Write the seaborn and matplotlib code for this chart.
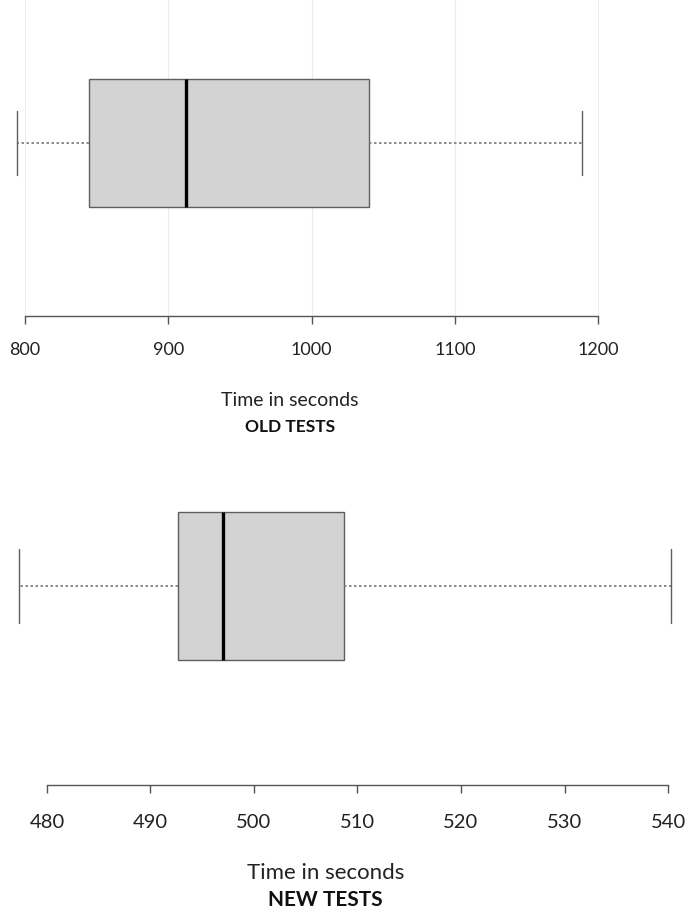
import numpy as np
import matplotlib
matplotlib.use("Agg")
import matplotlib.pyplot as plt
import seaborn as sns

# five-number summaries (min, Q1, median, Q3, max)
old_times = [794.5, 844.5, 912.5, 1040, 1189]
new_times = [477.3, 492.7, 497.0, 508.7, 540.3]

old_ticks = [800, 900, 1000, 1100, 1200]
new_ticks = [480, 490, 500, 510, 520, 530, 540]

sns.set_style("white")
plt.rcParams['font.family'] = ['Lato', 'DejaVu Sans']

fig = plt.figure(figsize=(6.9, 9.12), dpi=100)

box_kw = dict(
    orient="h", width=0.8, whis=(0, 100), saturation=1,
    color="#d3d3d3", linecolor="#5e5e5e", linewidth=1.0,
    medianprops=dict(color="black", linewidth=2.4),
    whiskerprops=dict(color="#777777", linestyle=(0, (1.5, 1.5)), linewidth=1.2),
    capprops=dict(color="#5e5e5e", linewidth=1.0),
)


def style_axis(ax, ticks, lim, ylim, fontsize, pad, grid):
    ax.set_xlim(*lim)
    ax.set_ylim(*ylim)
    ax.set_xticks(ticks)
    ax.set_xticklabels([str(t) for t in ticks], fontsize=fontsize, color="#222222")
    ax.set_yticks([])
    ax.set_ylabel("")
    for s in ["top", "right", "left"]:
        ax.spines[s].set_visible(False)
    ax.spines["bottom"].set_bounds(ticks[0], ticks[-1])
    ax.spines["bottom"].set_color("#555555")
    ax.spines["bottom"].set_linewidth(1.0)
    ax.tick_params(axis="x", direction="out", length=6, width=1.0,
                   color="#555555", pad=pad, bottom=True)
    if grid:
        ax.grid(axis="x", color="#ececec", linewidth=0.8)
        ax.set_axisbelow(True)
    else:
        ax.grid(False)


# OLD TESTS
ax1 = fig.add_axes([10 / 690, 0.6524, 670 / 690, 0.3476])
sns.boxplot(x=old_times, ax=ax1, **box_kw)
style_axis(ax1, old_ticks, (789.5, 1257.2), (1.081, -0.9), 13, 12, True)
ax1.set_xlabel("Time in seconds", fontsize=14, color="#222222")
ax1.xaxis.set_label_coords(0.418, -0.262)
ax1.xaxis.label.set_va("center")
ax1.text(0.418, -0.347, "OLD TESTS", transform=ax1.transAxes, ha="center",
         va="center", fontsize=12.5, fontweight="bold", color="#111111")

# NEW TESTS
ax2 = fig.add_axes([10 / 690, 0.1382, 675 / 690, 0.3575])
sns.boxplot(x=new_times, ax=ax2, **box_kw)
style_axis(ax2, new_ticks, (476.43, 541.64), (1.076, -0.686), 14.5, 14, False)
ax2.set_xlabel("Time in seconds", fontsize=16, color="#222222")
ax2.xaxis.set_label_coords(0.467, -0.267)
ax2.xaxis.label.set_va("center")
ax2.text(0.467, -0.350, "NEW TESTS", transform=ax2.transAxes, ha="center",
         va="center", fontsize=15, fontweight="bold", color="#111111")

fig.savefig("out.png", dpi=100)
